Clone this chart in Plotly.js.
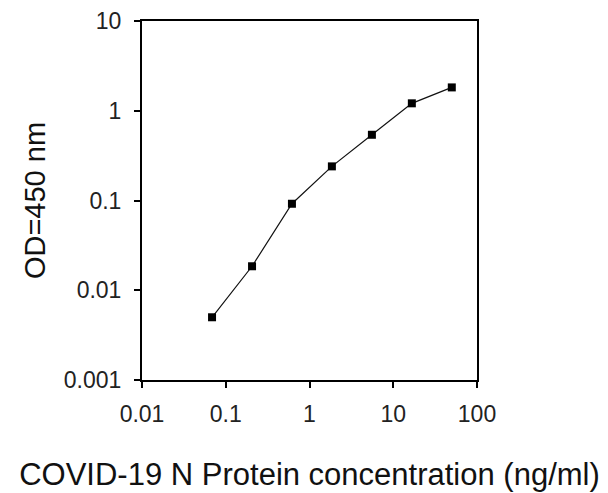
<!DOCTYPE html>
<html>
<head>
<meta charset="utf-8">
<script src="https://cdn.plot.ly/plotly-3.0.1.min.js"></script>
<style>html,body{margin:0;padding:0;background:#fff;}#chart{width:608px;height:493px;}</style>
</head>
<body>
<div id="chart"></div>
<script>
var concentration = [0.0686, 0.206, 0.617, 1.85, 5.56, 16.67, 50];
var od450 = [0.005, 0.0185, 0.092, 0.24, 0.54, 1.21, 1.82];
var xTickVals = [0.01, 0.1, 1, 10, 100];
var xTickText = ["0.01", "0.1", "1", "10", "100"];
var yTickVals = [0.001, 0.01, 0.1, 1, 10];
var yTickText = ["0.001", "0.01", "0.1", "1", "10"];

var font = "Liberation Sans, Arial, sans-serif";
var trace = {
  x: concentration, y: od450, type: "scatter", mode: "lines+markers",
  line: {color: "#111", width: 1.2},
  marker: {color: "#000", size: 8, symbol: "square"},
  showlegend: false
};
var layout = {
  width: 608, height: 493,
  margin: {l: 142, r: 131, t: 21, b: 113},
  paper_bgcolor: "#fff", plot_bgcolor: "#fff",
  font: {family: font, color: "#222"},
  xaxis: {
    type: "log", range: [-2, 2],
    tickvals: xTickVals, ticktext: xTickText,
    ticks: "outside", ticklen: 6, tickwidth: 2, tickcolor: "#000",
    showline: true, linecolor: "#000", linewidth: 2, mirror: true,
    showgrid: false, zeroline: false,
    tickfont: {size: 23, family: font, color: "#222"},
    ticklabelstandoff: 6,
    title: {text: "COVID-19 N Protein concentration (ng/ml)", font: {size: 31, family: font, color: "#111"}, standoff: 38}
  },
  yaxis: {
    type: "log", range: [-3, 1],
    tickvals: yTickVals, ticktext: yTickText,
    ticks: "outside", ticklen: 6, tickwidth: 2, tickcolor: "#000",
    showline: true, linecolor: "#000", linewidth: 2, mirror: true,
    showgrid: false, zeroline: false,
    tickfont: {size: 23, family: font, color: "#222"},
    ticklabelstandoff: 8,
    title: {text: "OD=450 nm", font: {size: 29, family: font, color: "#111"}, standoff: 10}
  }
};
Plotly.newPlot("chart", [trace], layout, {displayModeBar: false, staticPlot: true});
</script>
</body>
</html>
